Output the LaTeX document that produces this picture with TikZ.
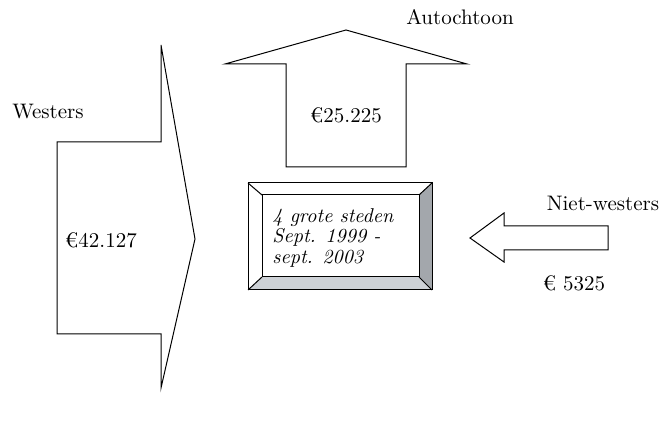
\documentclass[tikz,border=0pt]{standalone}
\usepackage{fontspec}
\begin{document}
\begin{tikzpicture}[x=0.5pt,y=-0.5pt,
  shapeline/.style={draw=black,line width=0.5pt,line join=miter},
  lbl/.style={inner sep=0pt,font=\fontsize{10.5}{12}\selectfont},
  boxtext/.style={inner sep=0pt,align=left,anchor=west,font=\fontsize{10}{10.4}\selectfont\itshape}]
\useasboundingbox (0,0) rectangle (665,427);
% Westers arrow
\draw[shapeline] (161,45) -- (195,239) -- (161,388) -- (161,334) -- (57,334) -- (57,142) -- (161,142) -- cycle;
% Autochtoon arrow
\draw[shapeline] (346,30) -- (467,64) -- (406,64) -- (406,167) -- (286,167) -- (286,64) -- (225,64) -- cycle;
% Niet-westers arrow
\draw[shapeline] (470,238) -- (504,213) -- (504,226) -- (608,226) -- (608,250) -- (504,250) -- (504,262) -- cycle;
% bevelled box
\fill[white] (248,183) rectangle (432,290);
\fill[fill={rgb,255:red,163;green,167;blue,172}] (432,183) -- (432,290) -- (419,277) -- (419,195) -- cycle;
\fill[fill={rgb,255:red,205;green,209;blue,214}] (248,290) -- (432,290) -- (419,277) -- (262,277) -- cycle;
\draw[shapeline] (248,183) rectangle (432,290);
\draw[shapeline] (262,195) rectangle (419,277);
\draw[shapeline] (248,183) -- (262,195);
\draw[shapeline] (432,183) -- (419,195);
\draw[shapeline] (248,290) -- (262,277);
\draw[shapeline] (432,290) -- (419,277);
% texts
\node[boxtext] (box) at (272,238) {4 grote steden\\Sept. 1999 -\\sept. 2003};
\node[lbl] (westers) at (48,112) {Westers};
\node[lbl] (westval) at (101,240) {€42.127};
\node[lbl] (auto) at (460,17) {Autochtoon};
\node[lbl] (autoval) at (346,115) {€25.225};
\node[lbl] (niet) at (603,203) {Niet-westers};
\node[lbl] (nietval) at (574,283) {€ 5325};
\end{tikzpicture}
\end{document}
